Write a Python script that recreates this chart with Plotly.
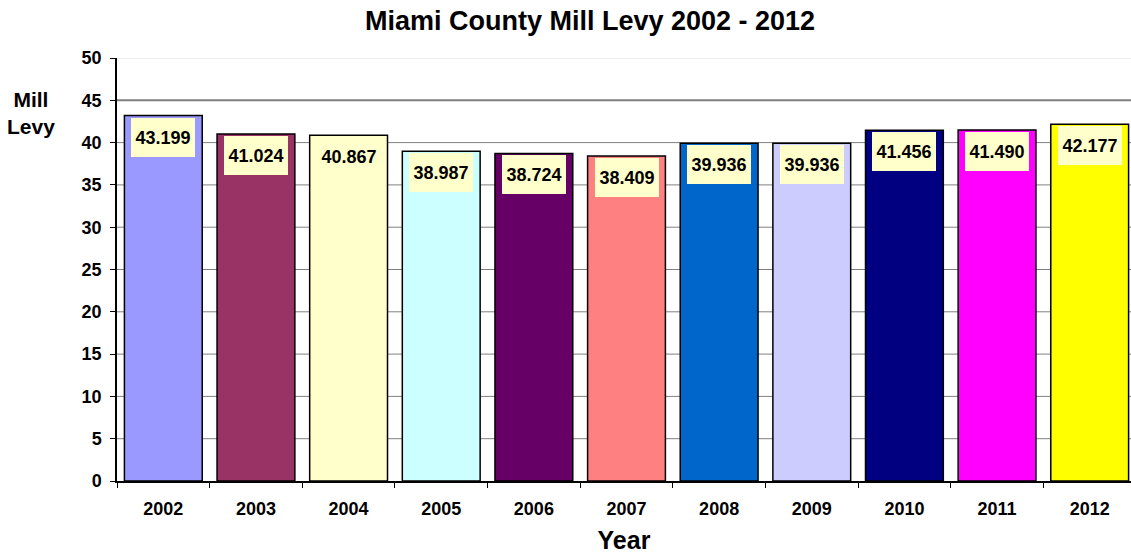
import plotly.graph_objects as go

years = ["2002", "2003", "2004", "2005", "2006", "2007", "2008", "2009", "2010", "2011", "2012"]
levy = [43.199, 41.024, 40.867, 38.987, 38.724, 38.409, 39.936, 39.936, 41.456, 41.490, 42.177]
labels = ["43.199", "41.024", "40.867", "38.987", "38.724", "38.409", "39.936", "39.936", "41.456", "41.490", "42.177"]
colors = ["#9999FF", "#993366", "#FFFFCC", "#CCFFFF", "#660066", "#FF8080",
          "#0066CC", "#CCCCFF", "#000080", "#FF00FF", "#FFFF00"]
y_ticks = [0, 5, 10, 15, 20, 25, 30, 35, 40, 45, 50]

FONT = "Liberation Sans, Arial, sans-serif"

fig = go.Figure()
fig.add_trace(go.Bar(
    x=years, y=levy, width=0.84,
    marker=dict(color=colors, line=dict(color="black", width=1.5)),
    hoverinfo="x+y",
))

for i, (v, t) in enumerate(zip(levy, labels)):
    fig.add_annotation(
        x=i, y=v, xref="x", yref="y", text="<b>" + t + "</b>", showarrow=False,
        yanchor="top", yshift=-2, width=60, height=35, borderpad=2, borderwidth=0,
        bgcolor="#FFFFCC", font=dict(family=FONT, size=18, color="black"),
        valign="middle",
    )

fig.add_annotation(
    x=-0.085, y=0.87, xref="paper", yref="paper", text="<b>Mill</b><br><b>Levy</b>",
    showarrow=False, xanchor="center", yanchor="middle",
    font=dict(family=FONT, size=21, color="black"),
)

# gridlines drawn as shapes beneath the bars
for tv in y_ticks[1:]:
    if tv == 50:
        ln = dict(color="#E8E8E8", width=1.5)
    elif tv == 45:
        ln = dict(color="#7F7F7F", width=2)
    else:
        ln = dict(color="#808080", width=1)
    fig.add_shape(type="line", xref="paper", yref="y", x0=0, x1=1, y0=tv, y1=tv,
                  line=ln, layer="below")

fig.update_layout(
    width=1131, height=554,
    margin=dict(l=117, r=0, t=58, b=73),
    paper_bgcolor="white", plot_bgcolor="white",
    showlegend=False,
    title=dict(text="<b>Miami County Mill Levy 2002 - 2012</b>", x=0.5217, xanchor="center",
               y=0.963, yanchor="middle",
               font=dict(family=FONT, size=27, color="black")),
    font=dict(family=FONT, color="black"),
    xaxis=dict(
        type="category",
        range=[-0.5, 10.446], showline=True, linecolor="black", linewidth=1.5,
        ticks="outside", ticklen=5, tickcolor="black", tickson="boundaries",
        tickfont=dict(family=FONT, size=18, color="black", weight="bold"),
        ticklabelstandoff=11,
        title=dict(text="<b>Year</b>", font=dict(family=FONT, size=25, color="black"),
                   standoff=13),
        showgrid=False,
    ),
    yaxis=dict(
        range=[0, 50], tickvals=y_ticks, showline=True, linecolor="black", linewidth=1.5,
        ticks="outside", ticklen=5, tickcolor="black",
        tickfont=dict(family=FONT, size=18, color="black", weight="bold"),
        ticklabelstandoff=5,
        showgrid=False, zeroline=False,
    ),
)

fig.write_html("out.html")
